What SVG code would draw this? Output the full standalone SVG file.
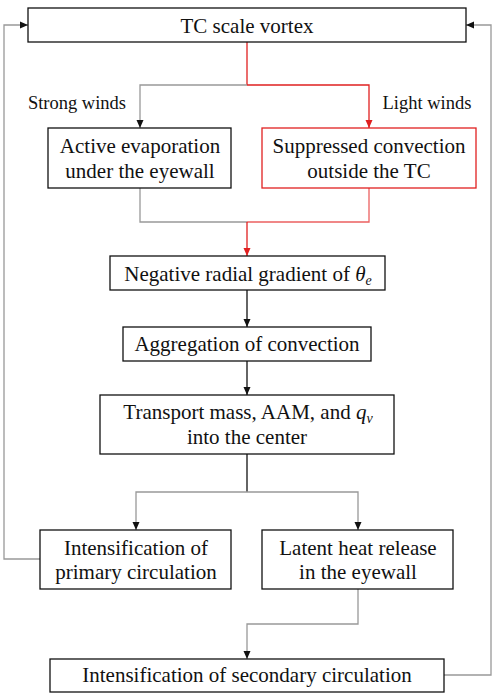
<svg xmlns="http://www.w3.org/2000/svg" width="496" height="698" viewBox="0 0 496 698">
<style>
.box{fill:#fff;stroke:#111;stroke-width:1.3}
.rbox{fill:#fff;stroke:#e02020;stroke-width:1.3}
.g{fill:none;stroke:#999;stroke-width:1.3}
.k{fill:none;stroke:#111;stroke-width:1.3}
.r{fill:none;stroke:#e02020;stroke-width:1.3}
.rl{fill:none;stroke:#ec6060;stroke-width:1.3}
</style>
<defs>
<marker id="ak" markerWidth="8" markerHeight="8" refX="8" refY="4" orient="auto" markerUnits="userSpaceOnUse"><path d="M0,0.5 L8,4 L0,7.5 z" fill="#111"/></marker>
<marker id="ar" markerWidth="8" markerHeight="8" refX="8" refY="4" orient="auto" markerUnits="userSpaceOnUse"><path d="M0,0.5 L8,4 L0,7.5 z" fill="#e02020"/></marker>
</defs>
<g id="connectors">
<path class="r" d="M247,42 V85"/>
<path class="g" d="M247,85 H140 V128" marker-end="url(#ak)"/>
<path class="r" d="M247,85 H369 V128" marker-end="url(#ar)"/>
<path class="g" d="M140,188 V222 H247"/>
<path class="rl" d="M369,188 V222 H247"/>
<path class="r" d="M247,222 V256" marker-end="url(#ar)"/>
<path class="k" d="M247,290 V327" marker-end="url(#ak)"/>
<path class="k" d="M247,361 V395" marker-end="url(#ak)"/>
<path class="k" d="M247,454 V492"/>
<path class="g" d="M247,492 H136 V530" marker-end="url(#ak)"/>
<path class="g" d="M247,492 H358 V530" marker-end="url(#ak)"/>
<path class="g" d="M40,559 H4 V25 H28" marker-end="url(#ak)"/>
<path class="g" d="M358,589 V624 H247 V659" marker-end="url(#ak)"/>
<path class="g" d="M444,675 H491 V25 H466" marker-end="url(#ak)"/>
</g>
<g font-family="Liberation Serif, DejaVu Serif, serif" font-size="21" fill="#111" text-anchor="middle">
<g id="l_strong"><text x="77" y="109" font-size="18.5">Strong winds</text></g>
<g id="l_light"><text x="427" y="109" font-size="18.5">Light winds</text></g>
<g id="n_vortex"><rect class="box" x="28" y="8" width="438" height="34"/><text x="247" y="33">TC scale vortex</text></g>
<g id="n_evap"><rect class="box" x="48" y="128" width="183" height="60"/><text x="140" y="153">Active evaporation</text><text x="140" y="178">under the eyewall</text></g>
<g id="n_supp"><rect class="rbox" x="262" y="128" width="214" height="60"/><text x="369" y="153">Suppressed convection</text><text x="369" y="178">outside the TC</text></g>
<g id="n_grad"><rect class="box" x="110" y="256" width="275" height="34"/><text x="248" y="281">Negative radial gradient of <tspan font-style="italic">θ</tspan><tspan font-style="italic" font-size="14" dy="4">e</tspan></text></g>
<g id="n_aggr"><rect class="box" x="123" y="327" width="248" height="34"/><text x="247" y="351">Aggregation of convection</text></g>
<g id="n_trans"><rect class="box" x="100" y="395" width="294" height="59"/><text x="248" y="419">Transport mass, AAM, and <tspan font-style="italic">q</tspan><tspan font-style="italic" font-size="14" dy="4">v</tspan></text><text x="247" y="444">into the center</text></g>
<g id="n_prim"><rect class="box" x="40" y="530" width="191" height="59"/><text x="136" y="555">Intensification of</text><text x="136" y="579">primary circulation</text></g>
<g id="n_latent"><rect class="box" x="262" y="530" width="191" height="59"/><text x="358" y="555">Latent heat release</text><text x="358" y="579">in the eyewall</text></g>
<g id="n_sec"><rect class="box" x="50" y="659" width="394" height="33"/><text x="247" y="682">Intensification of secondary circulation</text></g>
</g>
</svg>
